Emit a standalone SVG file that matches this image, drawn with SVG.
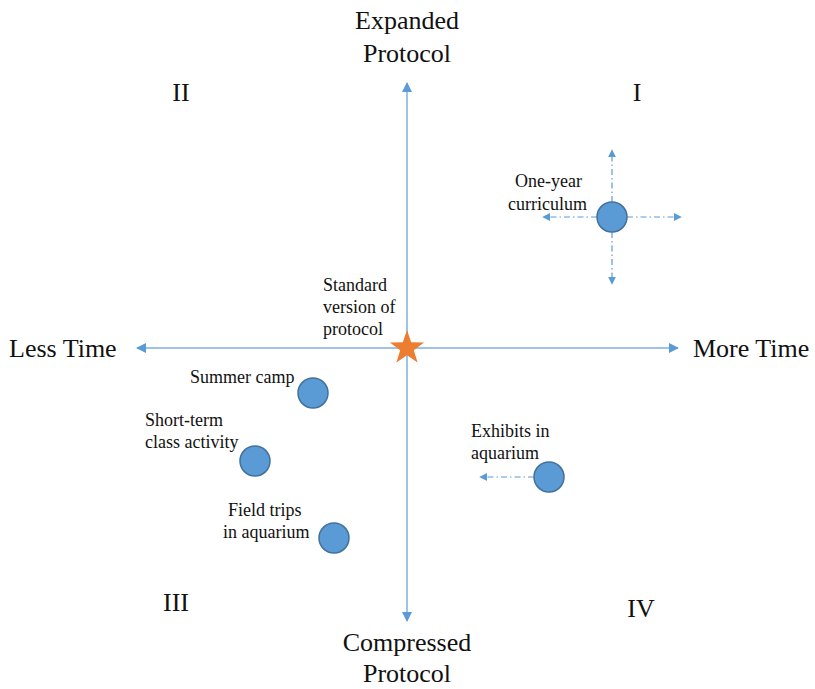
<svg xmlns="http://www.w3.org/2000/svg" width="815" height="689" viewBox="0 0 815 689">
<defs>
<marker id="ah" viewBox="0 0 10 10" refX="9" refY="5" markerWidth="10" markerHeight="10" markerUnits="userSpaceOnUse" orient="auto"><path d="M0,0 L10,5 L0,10 Z" fill="#5b9bd5"/></marker>
<marker id="ahs" viewBox="0 0 10 10" refX="9" refY="5" markerWidth="8" markerHeight="8" markerUnits="userSpaceOnUse" orient="auto"><path d="M0,0 L10,5 L0,10 Z" fill="#5b9bd5"/></marker>
<style>
.big{font-family:"Liberation Serif","Times New Roman",serif;font-size:26px;fill:#111}
.lbl{font-family:"Liberation Serif","Times New Roman",serif;font-size:18px;fill:#111}
.axis{stroke:#9dc3e6;stroke-width:2;fill:none}
.dd{stroke:#5b9bd5;stroke-width:1.2;stroke-dasharray:6 3 1.5 3;fill:none}
.dot{fill:#5b9bd5;stroke:#41719c;stroke-width:1.5}
</style>
</defs>
<rect width="815" height="689" fill="#fff"/>
<g id="connectors">
<line class="axis" x1="407" y1="348" x2="407" y2="83" marker-end="url(#ah)"/>
<line class="axis" x1="407" y1="348" x2="407" y2="621" marker-end="url(#ah)"/>
<line class="axis" x1="407" y1="348" x2="137" y2="348" marker-end="url(#ah)"/>
<line class="axis" x1="407" y1="348" x2="678" y2="348" marker-end="url(#ah)"/>
<line class="dd" x1="612" y1="202" x2="612" y2="150" marker-end="url(#ahs)"/>
<line class="dd" x1="612" y1="232" x2="612" y2="284" marker-end="url(#ahs)"/>
<line class="dd" x1="597" y1="217" x2="543" y2="217" marker-end="url(#ahs)"/>
<line class="dd" x1="627" y1="217" x2="681" y2="217" marker-end="url(#ahs)"/>
<line class="dd" x1="534" y1="477" x2="480" y2="477" marker-end="url(#ahs)"/>
</g>
<g id="axis-labels">
<text class="big" x="407" y="29" text-anchor="middle">Expanded</text>
<text class="big" x="407" y="62" text-anchor="middle">Protocol</text>
<text class="big" x="407" y="651" text-anchor="middle">Compressed</text>
<text class="big" x="407" y="682" text-anchor="middle">Protocol</text>
<text class="big" x="9" y="357">Less Time</text>
<text class="big" x="693" y="357">More Time</text>
</g>
<g id="quadrants">
<text class="big" x="181" y="101" text-anchor="middle">II</text>
<text class="big" x="637" y="101" text-anchor="middle">I</text>
<text class="big" x="176" y="611" text-anchor="middle">III</text>
<text class="big" x="641" y="617" text-anchor="middle">IV</text>
</g>
<g id="standard">
<polygon fill="#ed7d31" points="407,330 411.2,342.2 424.1,342.4 413.8,350.2 417.6,362.6 407,355.2 396.4,362.6 400.2,350.2 389.9,342.4 402.8,342.2"/>
<text class="lbl" x="323" y="291">Standard</text>
<text class="lbl" x="323" y="313">version of</text>
<text class="lbl" x="323" y="335">protocol</text>
</g>
<g id="one-year">
<circle class="dot" cx="612" cy="217" r="15"/>
<text class="lbl" x="515" y="187">One-year</text>
<text class="lbl" x="508" y="210">curriculum</text>
</g>
<g id="summer-camp">
<circle class="dot" cx="313" cy="393" r="15"/>
<text class="lbl" x="190" y="383">Summer camp</text>
</g>
<g id="short-term">
<circle class="dot" cx="255" cy="461" r="15"/>
<text class="lbl" x="145" y="426">Short-term</text>
<text class="lbl" x="145" y="448">class activity</text>
</g>
<g id="field-trips">
<circle class="dot" cx="334" cy="538" r="15"/>
<text class="lbl" x="228" y="516">Field trips</text>
<text class="lbl" x="223" y="538">in aquarium</text>
</g>
<g id="exhibits">
<circle class="dot" cx="549" cy="477" r="15"/>
<text class="lbl" x="471" y="437">Exhibits in</text>
<text class="lbl" x="471" y="459">aquarium</text>
</g>
</svg>
